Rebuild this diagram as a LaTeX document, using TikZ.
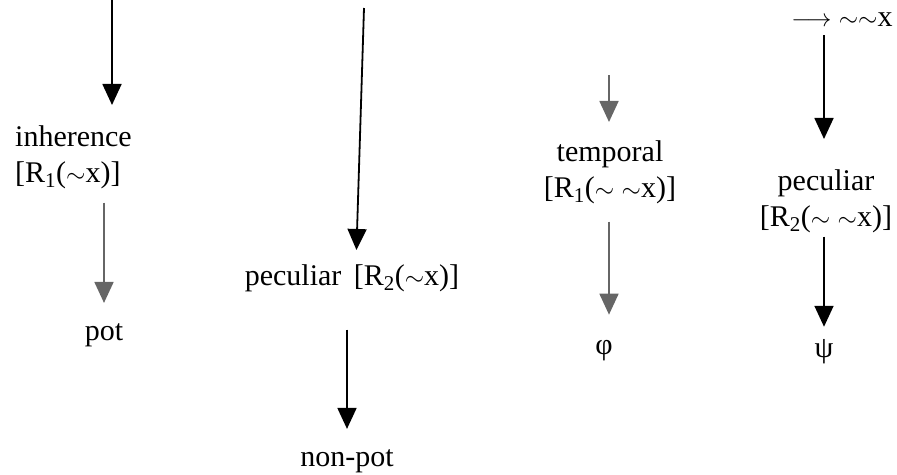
\documentclass[tikz,border=0pt]{standalone}
\usepackage{fontspec}
\setmainfont{Liberation Serif}
\usetikzlibrary{arrows.meta}
\begin{document}
\begin{tikzpicture}[x=1pt, y=-1pt, font=\fontsize{30}{36}\selectfont,
		arr/.style={-{Triangle[length=21pt,width=19pt]}, line width=1.8pt},
		faint/.style={arr, black!60},
		lbl/.style={inner sep=0pt, anchor=base}]
	\useasboundingbox (0,0) rectangle (897,474);
	% First column: inherence
	\coordinate (top1) at (112,0);
	\node[lbl, anchor=base west, align=left] (inh) at (15,182) {inherence\\{}[R\textsubscript{1}($\sim$x)]};
	\node[lbl] (pot) at (104,340) {pot};
	\draw[arr, shorten >=20pt] (top1) -- (top1 |- inh.north);
	\draw[faint, shorten <=14pt, shorten >=20pt] (inh.south -| pot.north) -- (pot.north);
	
	% Second column: peculiar
	\coordinate (top2) at (364,8);
	\node[lbl] (pec) at (352,285) {peculiar\, [R\textsubscript{2}($\sim$x)]};
	\node[lbl] (npot) at (347,466) {non-pot};
	\draw[arr, shorten >=14pt] (top2) -- ([xshift=4pt]pec.north);
	\draw[arr, shorten <=38pt, shorten >=20pt] (pec.south -| npot.north) -- (npot.north);
	
	% Third column: temporal
	\coordinate (top3) at (609,75);
	\node[lbl, align=center] (tmp) at (610,197) {temporal\\{}[R\textsubscript{1}($\sim$ $\sim$x)]};
	\node[lbl] (phi) at (604,354) {φ};
	\draw[faint, shorten >=18pt] (top3) -- (top3 |- tmp.north);
	\draw[faint, shorten <=18pt, shorten >=25pt] (tmp.south -| top3) -- (phi.north -| top3);
	
	% Fourth column: peculiar
	\coordinate (top4) at (824,35);
	\node[lbl, align=center] (pec2) at (826,226) {peculiar\\{}[R\textsubscript{2}($\sim$ $\sim$x)]};
	\node[lbl] (psi) at (824,357) {ψ};
	\node[lbl] (neg) at (842,26) {$\longrightarrow$ $\sim\sim$x};
	\draw[arr, shorten >=30pt] (top4) -- (top4 |- pec2.north);
	\draw[arr, shorten <=4pt, shorten >=12pt] (pec2.south -| top4) -- (psi.north -| top4);
\end{tikzpicture}
\end{document}
